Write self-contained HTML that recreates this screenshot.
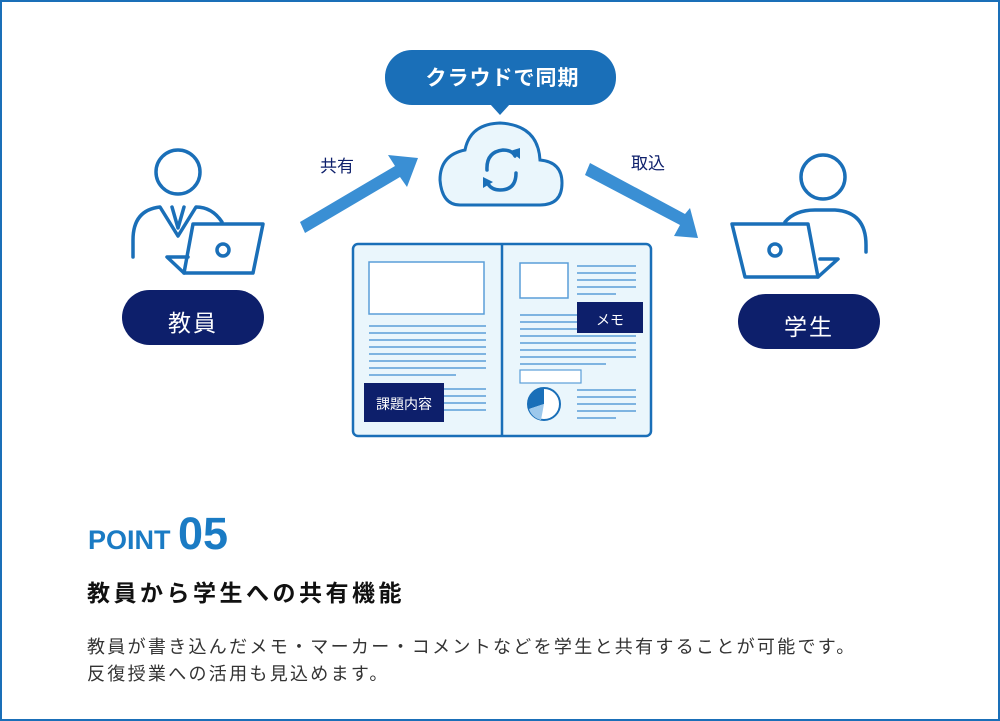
<!DOCTYPE html>
<html><head><meta charset="utf-8"><style>
body{margin:0;background:#fff;}
.wrap{position:relative;width:996px;height:717px;border:2px solid #1a6fb8;overflow:hidden;font-family:"Liberation Sans","Noto Sans CJK JP",sans-serif;}
.t{position:absolute;white-space:nowrap;}
</style></head><body><div class="wrap">
<svg width="996" height="717" viewBox="2 2 996 717" style="position:absolute;left:0;top:0">
<g fill="none" stroke="#1a6fb8" stroke-width="3.5" stroke-linejoin="round" stroke-linecap="round">
<circle cx="178" cy="172" r="22"/>
<path d="M133 257 V240 Q133 210 160 207 L178 236 L196 207 Q212 207 222 222"/>
<path d="M172 207 L178 228 L184 207"/>
<path d="M193 224 H263 L253 273 H184 Z"/>
<path d="M184 273 L167 257 H188"/>
<circle cx="223" cy="250" r="6"/>
<circle cx="823" cy="177" r="22"/>
<path d="M785 222 Q795 210 815 210 H835 Q866 212 866 245 V252"/>
<path d="M732 224 H808 L818 277 H745 Z"/>
<path d="M818 277 L838 259 H820"/>
<circle cx="775" cy="250" r="6"/>
</g>
<g fill="#3a8fd4">
<polygon points="300,222 395,166 388,155 418,158 407,187 400,177 305,233"/>
<polygon points="585,175 680,225 674,236 698,238 690,208 685,214 590,163"/>
</g>
<rect x="385" y="50" width="231" height="55" rx="27" fill="#1a6fb8"/>
<polygon points="490,104 510,104 500,115" fill="#1a6fb8"/>
<path d="M460 205 H540 Q562 205 562 183 Q562 162 540 160 Q538 125 500 123 Q470 124 465 150 Q440 155 440 180 Q442 205 460 205 Z" fill="#eaf6fc" stroke="#1a6fb8" stroke-width="3"/>
<g fill="none" stroke="#1a6fb8" stroke-width="3.5" stroke-linecap="round">
<path d="M487 170 Q486 152 503 150 Q512 150 515 156"/>
<path d="M516 173 Q516 190 500 190 Q492 190 488 184"/>
</g>
<polygon points="510,151 520,159 520,148" fill="#1a6fb8"/>
<polygon points="483,188 493,182 483,177" fill="#1a6fb8"/>
<rect x="353" y="244" width="298" height="192" rx="5" fill="#eaf6fc" stroke="#1a6fb8" stroke-width="2.5"/>
<line x1="502" y1="244" x2="502" y2="436" stroke="#1a6fb8" stroke-width="2.5"/>
<rect x="369" y="262" width="115" height="52" fill="#fff" stroke="#5a9ed8" stroke-width="1.5"/>
<rect x="520" y="263" width="48" height="35" fill="#fff" stroke="#5a9ed8" stroke-width="1.5"/>
<g stroke="#5a9ed8" stroke-width="1.5">
<line x1="369" y1="326" x2="486" y2="326"/><line x1="369" y1="333" x2="486" y2="333"/><line x1="369" y1="340" x2="486" y2="340"/><line x1="369" y1="347" x2="486" y2="347"/><line x1="369" y1="354" x2="486" y2="354"/><line x1="369" y1="361" x2="486" y2="361"/><line x1="369" y1="368" x2="486" y2="368"/><line x1="369" y1="375" x2="456" y2="375"/>
<line x1="440" y1="389" x2="486" y2="389"/><line x1="440" y1="396" x2="486" y2="396"/><line x1="440" y1="403" x2="486" y2="403"/><line x1="440" y1="410" x2="486" y2="410"/>
<line x1="577" y1="266" x2="636" y2="266"/><line x1="577" y1="273" x2="636" y2="273"/><line x1="577" y1="280" x2="636" y2="280"/><line x1="577" y1="287" x2="636" y2="287"/><line x1="577" y1="294" x2="616" y2="294"/>
<line x1="520" y1="315" x2="580" y2="315"/><line x1="520" y1="322" x2="580" y2="322"/><line x1="520" y1="329" x2="580" y2="329"/><line x1="520" y1="336" x2="636" y2="336"/><line x1="520" y1="343" x2="636" y2="343"/><line x1="520" y1="350" x2="636" y2="350"/><line x1="520" y1="357" x2="636" y2="357"/><line x1="520" y1="364" x2="606" y2="364"/>
<line x1="577" y1="390" x2="636" y2="390"/><line x1="577" y1="397" x2="636" y2="397"/><line x1="577" y1="404" x2="636" y2="404"/><line x1="577" y1="411" x2="636" y2="411"/><line x1="577" y1="418" x2="616" y2="418"/>
</g>
<rect x="520" y="370" width="61" height="13" fill="#fff" stroke="#5a9ed8" stroke-width="1.2"/>
<circle cx="544" cy="404" r="16" fill="#fff" stroke="#1a6fb8" stroke-width="2"/>
<path d="M544 404 L544 388 A16 16 0 0 0 529 409 Z" fill="#1a6fb8"/>
<path d="M544 404 L529 409 A16 16 0 0 0 541 420 Z" fill="#9cc8ec"/>
<rect x="364" y="383" width="80" height="39" fill="#0d1f6b"/>
<rect x="577" y="302" width="66" height="31" fill="#0d1f6b"/>
<rect x="122" y="290" width="142" height="55" rx="27.5" fill="#0d1f6b"/>
<rect x="738" y="294" width="142" height="55" rx="27.5" fill="#0d1f6b"/>
</svg>
<div class="t" style="left:385px;top:60px;width:231px;text-align:center;color:#fff;font-size:21px;font-weight:bold;letter-spacing:1px;">クラウドで同期</div>
<div class="t" style="left:318px;top:150px;color:#0d1f6b;font-size:17px;">共有</div>
<div class="t" style="left:629px;top:147px;color:#0d1f6b;font-size:17px;">取込</div>
<div class="t" style="left:120px;top:302px;width:142px;text-align:center;color:#fff;font-size:23px;letter-spacing:2px;">教員</div>
<div class="t" style="left:736px;top:306px;width:142px;text-align:center;color:#fff;font-size:23px;letter-spacing:2px;">学生</div>
<div class="t" style="left:362px;top:392px;width:80px;text-align:center;color:#fff;font-size:14px;">課題内容</div>
<div class="t" style="left:575px;top:308px;width:66px;text-align:center;color:#fff;font-size:14px;">メモ</div>
<div class="t" style="left:86px;top:506px;color:#1a7bc4;font-weight:bold;"><span style="font-size:27px;">POINT </span><span style="font-size:45px;">05</span></div>
<div class="t" style="left:85px;top:572px;color:#111;font-size:23px;font-weight:bold;letter-spacing:3.5px;">教員から学生への共有機能</div>
<div class="t" style="left:85px;top:632px;color:#333;font-size:18px;line-height:27px;letter-spacing:2.3px;">教員が書き込んだメモ・マーカー・コメントなどを学生と共有することが可能です。<br>反復授業への活用も見込めます。</div>
</div></body></html>
